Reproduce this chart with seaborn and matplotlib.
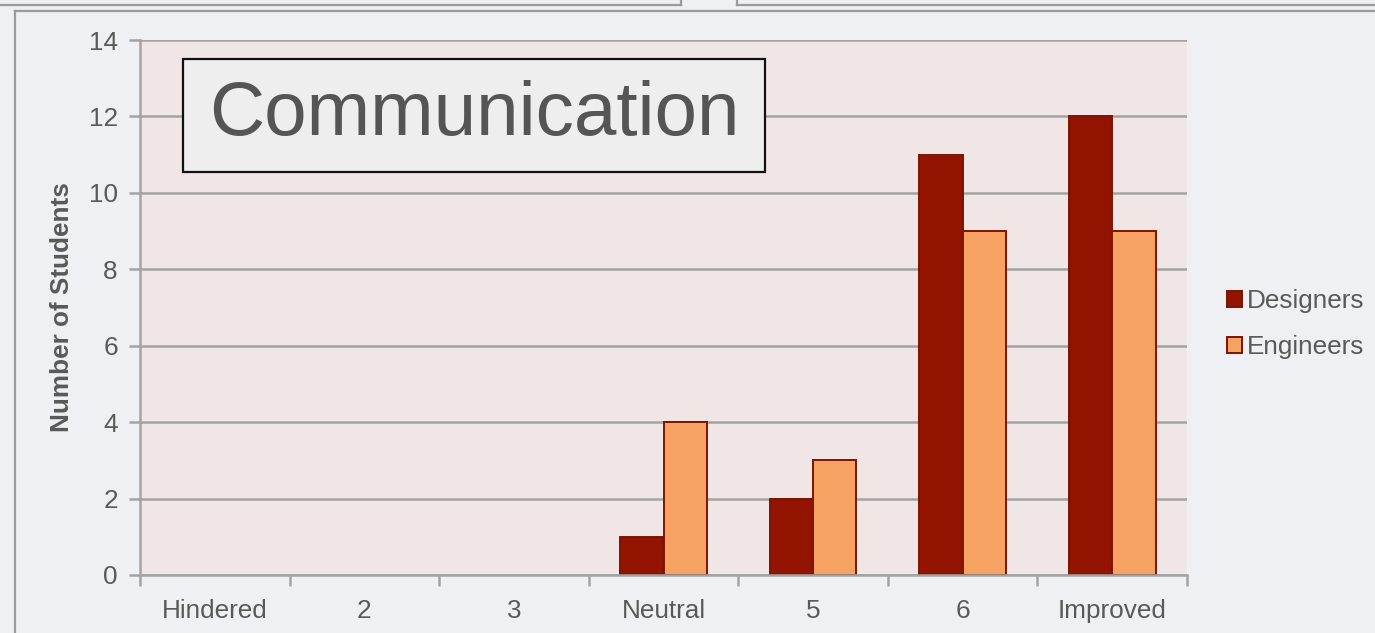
import matplotlib
matplotlib.use("Agg")
import matplotlib.pyplot as plt
from matplotlib.patches import Rectangle
from matplotlib.lines import Line2D
from matplotlib.ticker import FixedLocator
import numpy as np
import pandas as pd
import seaborn as sns

# Survey responses on how the project affected communication
categories = ["Hindered", "2", "3", "Neutral", "5", "6", "Improved"]
designers = [0, 0, 0, 1, 2, 11, 12]
engineers = [0, 0, 0, 4, 3, 9, 9]
groups = ["Designers", "Engineers"]
y_ticks = [0, 2, 4, 6, 8, 10, 12, 14]
panel_title = "Communication"
y_label = "Number of Students"

df = pd.DataFrame({
    "rating": categories * 2,
    "count": designers + engineers,
    "group": [groups[0]] * len(categories) + [groups[1]] * len(categories),
})

plt.rcParams["font.family"] = ["Liberation Sans", "DejaVu Sans"]
text_color = "#595959"
grid_color = "#a3a3a3"
edge_color = "#7f1300"

W, H = 1375, 633
fig = plt.figure(figsize=(W / 100, H / 100), dpi=100)
fig.patch.set_facecolor("#eff0f4")

def fx(x):
    return x / W

def fy(y):
    return 1 - y / H

# Slide frame and edges of neighbouring panels
frame_kw = dict(color="#9a9a9a", lw=1.6, transform=fig.transFigure)
fig.add_artist(Line2D([fx(15), fx(15)], [fy(11), fy(H + 5)], **frame_kw))
fig.add_artist(Line2D([fx(15), fx(W + 5)], [fy(11), fy(11)], **frame_kw))
fig.add_artist(Line2D([fx(-5), fx(681)], [fy(5), fy(5)], **frame_kw))
fig.add_artist(Line2D([fx(681), fx(681)], [fy(5), fy(-5)], **frame_kw))
fig.add_artist(Line2D([fx(737), fx(W + 5)], [fy(5), fy(5)], **frame_kw))
fig.add_artist(Line2D([fx(737), fx(737)], [fy(5), fy(-5)], **frame_kw))

ax = fig.add_axes([fx(140), fy(575), fx(1187) - fx(140), fy(40) - fy(575)])
ax.set_facecolor("#f0e6e6")

sns.barplot(
    data=df, x="rating", y="count", hue="group", order=categories,
    hue_order=groups, palette=["#921400", "#f5a262"], width=0.58, gap=0,
    edgecolor=edge_color, linewidth=1.4, saturation=1, ax=ax,
)
for p in ax.patches:
    if p.get_height() == 0:
        p.set_linewidth(0)

ax.set_ylim(0, 14)
ax.set_xlim(-0.5, len(categories) - 0.5)
ax.set_yticks(y_ticks)
ax.yaxis.grid(True, color=grid_color, lw=1.8)
ax.xaxis.grid(False)
ax.set_axisbelow(True)

for side in ["top", "right"]:
    ax.spines[side].set_visible(False)
for side in ["left", "bottom"]:
    ax.spines[side].set_color(grid_color)
    ax.spines[side].set_linewidth(1.8)

ax.xaxis.set_minor_locator(FixedLocator(np.arange(-0.5, len(categories), 1.0)))
ax.tick_params(axis="x", which="major", length=0, pad=17, labelsize=18.8, labelcolor=text_color)
ax.tick_params(axis="x", which="minor", length=8, width=1.8, color=grid_color)
ax.tick_params(axis="y", length=8, width=1.8, color=grid_color, pad=8, labelsize=18.8, labelcolor=text_color)

ax.set_xlabel("")
ax.set_ylabel(y_label, fontsize=18.8, fontweight="bold", color=text_color)
ax.yaxis.set_label_coords(fx(74), fy(307), transform=fig.transFigure)

# Panel title box
fig.add_artist(Rectangle((fx(183), fy(172)), fx(765) - fx(183), fy(59) - fy(172),
                         transform=fig.transFigure, facecolor="#eeeeee",
                         edgecolor="#111111", lw=1.6, zorder=5))
fig.text(fx(474), fy(116), panel_title, ha="center", va="center",
         fontsize=55, color="#555555", zorder=6)

# Legend
handles, labels = ax.get_legend_handles_labels()
for h in handles:
    h.set_edgecolor(edge_color)
    h.set_linewidth(1.4)
leg = ax.legend(handles, labels, loc="center left",
                bbox_to_anchor=(fx(1227), fy(324)), bbox_transform=fig.transFigure,
                frameon=False, fontsize=18.8, handlelength=0.58, handleheight=0.58,
                handletextpad=0.2, labelspacing=0.85, borderaxespad=0, borderpad=0)
for t in leg.get_texts():
    t.set_color(text_color)

fig.savefig("out.png", dpi=100, facecolor=fig.get_facecolor())
